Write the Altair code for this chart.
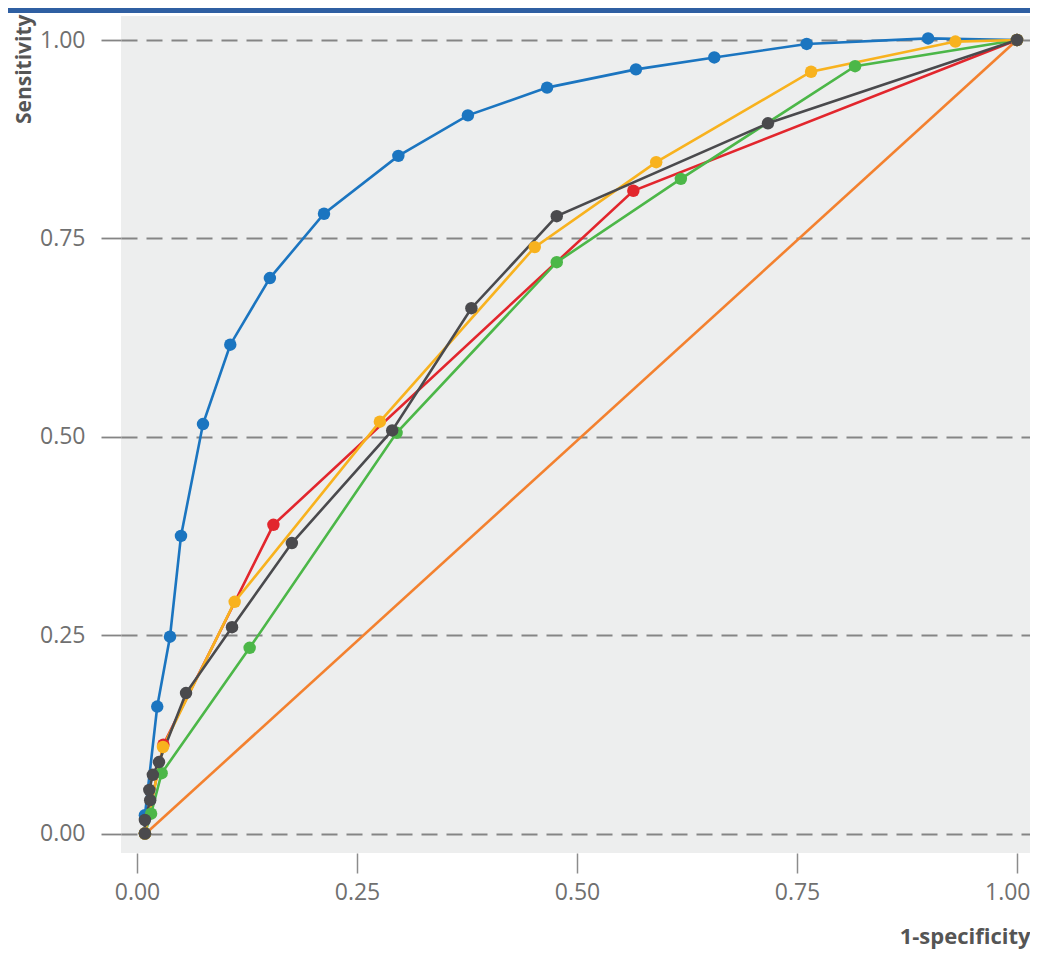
import altair as alt
import pandas as pd

# ---- data ----
blue_x = [0.009, 0.009, 0.023, 0.0375, 0.05, 0.075, 0.106, 0.151, 0.2125, 0.297, 0.376, 0.466, 0.567, 0.656, 0.761, 0.899, 1.0]
blue_y = [0.0, 0.023, 0.160, 0.248, 0.375, 0.516, 0.616, 0.700, 0.781, 0.854, 0.905, 0.940, 0.963, 0.978, 0.995, 1.002, 1.0]

yellow_x = [0.009, 0.0295, 0.111, 0.276, 0.452, 0.590, 0.766, 0.930, 1.0]
yellow_y = [0.0, 0.109, 0.292, 0.519, 0.739, 0.846, 0.960, 0.998, 1.0]

red_x = [0.009, 0.030, 0.155, 0.564, 1.0]
red_y = [0.0, 0.112, 0.389, 0.810, 1.0]

green_x = [0.009, 0.016, 0.028, 0.128, 0.295, 0.477, 0.618, 0.816, 1.0]
green_y = [0.0, 0.025, 0.076, 0.234, 0.505, 0.720, 0.825, 0.967, 1.0]

dark_x = [0.009, 0.009, 0.015, 0.014, 0.018, 0.025, 0.0557, 0.108, 0.176, 0.290, 0.380, 0.477, 0.717, 1.0]
dark_y = [0.0, 0.017, 0.042, 0.055, 0.074, 0.090, 0.177, 0.260, 0.366, 0.508, 0.662, 0.778, 0.895, 1.0]

diag_x = [0.01, 1.0]
diag_y = [0.0, 1.0]

series_names = ["blue", "red", "green", "yellow", "dark"]
series_colors = ["#1b75c0", "#e2262d", "#4cb748", "#f8b21e", "#4a4a4d"]
series_data = {
    "blue": (blue_x, blue_y),
    "red": (red_x, red_y),
    "green": (green_x, green_y),
    "yellow": (yellow_x, yellow_y),
    "dark": (dark_x, dark_y),
}

rows = []
for name in series_names:
    xs, ys = series_data[name]
    for i, (a, b) in enumerate(zip(xs, ys)):
        rows.append({"series": name, "x": a, "y": b, "ord": i})
df = pd.DataFrame(rows)
diag = pd.DataFrame({"x": diag_x, "y": diag_y, "ord": [0, 1]})

W, H = 909, 837
x_dom = [-16 / 880, 1 + 13 / 880]
y_dom = [-19.5 / 793.5, 1 + 24 / 793.5]

ticks = [0, 0.25, 0.5, 0.75, 1.0]

x_enc = alt.X(
    "x:Q",
    scale=alt.Scale(domain=x_dom, nice=False, zero=False),
    axis=alt.Axis(
        values=ticks, format=".2f", grid=False, domain=False,
        tickSize=20, tickColor="#8c8c8c", tickWidth=1.5,
        labelFont="Open Sans", labelFontSize=23, labelColor="#707070",
        labelPadding=8, labelBaseline="top",
        labelFlush=14, labelFlushOffset=13,
        title="1-specificity", titleFont="Open Sans", titleFontSize=22,
        titleFontWeight="bold", titleColor="#555555",
        titleAnchor="end", titleAlign="right", titleX=W, titleY=90,
        titleBaseline="alphabetic",
    ),
)
y_enc = alt.Y(
    "y:Q",
    scale=alt.Scale(domain=y_dom, nice=False, zero=False),
    axis=alt.Axis(
        values=ticks, format=".2f", grid=True, gridDash=[16, 9],
        gridColor="#858585", gridWidth=1.8, domain=False,
        tickSize=20, tickColor="#858585", tickWidth=1.8,
        labelFont="Open Sans", labelFontSize=23, labelColor="#707070",
        labelPadding=16,
        title="Sensitivity", titleFont="Open Sans", titleFontSize=21,
        titleFontWeight="bold", titleColor="#555555",
        titleAngle=-90, titleAlign="right", titleBaseline="middle",
        titleX=-97, titleY=-2,
    ),
)

color_scale = alt.Scale(domain=series_names, range=series_colors)

diag_line = alt.Chart(diag).mark_line(color="#f3812f", strokeWidth=2.6).encode(
    x=x_enc, y=y_enc, order="ord:Q"
)

lines = alt.Chart(df).mark_line(strokeWidth=2.6).encode(
    x="x:Q", y="y:Q",
    color=alt.Color("series:N", scale=color_scale, legend=None),
    detail="series:N",
    order="ord:Q",
)

points = alt.Chart(df).mark_circle(size=155, opacity=1).encode(
    x="x:Q", y="y:Q",
    color=alt.Color("series:N", scale=color_scale, legend=None),
)

bar = alt.Chart(pd.DataFrame({"a": [0]})).mark_rule(
    color="#2f5fa2", strokeWidth=5
).encode(x=alt.value(-113), x2=alt.value(W), y=alt.value(-5.5))

chart = alt.layer(diag_line, lines, points, bar).properties(
    width=W, height=H,
    autosize=alt.AutoSizeParams(type="none"),
    padding={"left": 113, "top": 8, "right": 0, "bottom": 102},
    background="white",
).configure_view(fill="#edeeee", stroke=None)

chart.save("out.html", embed_options={"renderer": "svg", "actions": False})
